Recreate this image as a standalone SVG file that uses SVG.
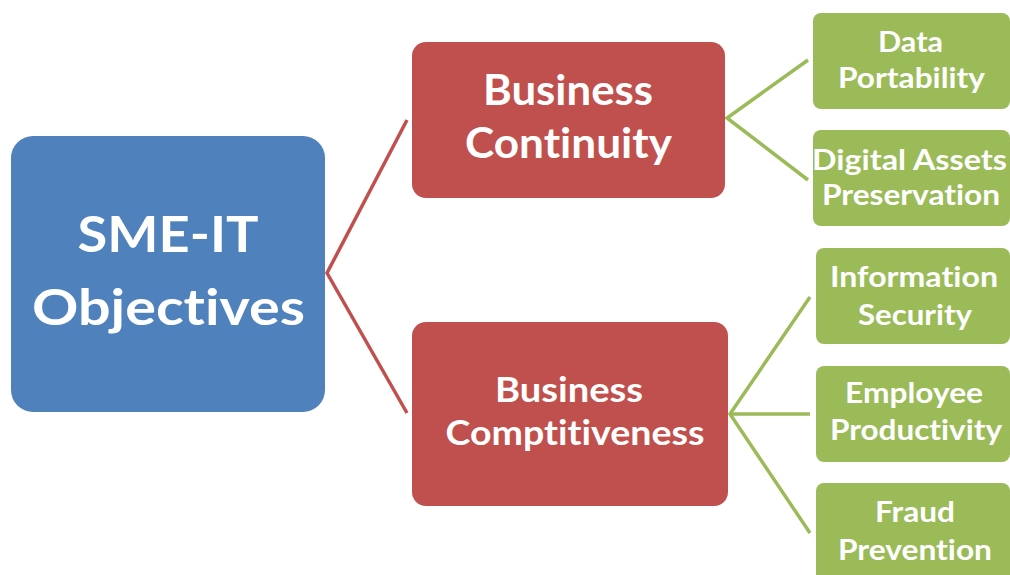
<svg xmlns="http://www.w3.org/2000/svg" width="1010" height="575" viewBox="0 0 1010 575">
<style>
text{font-family:Lato,"Open Sans","Liberation Sans",sans-serif;font-weight:700;fill:#fff;text-anchor:middle;font-variant-ligatures:none}
.blue{fill:#4F81BD}
.red{fill:#C0504D}
.green{fill:#9BBB59}
.cr{stroke:#C0504D;stroke-width:3.5;fill:none}
.cg{stroke:#9BBB59;stroke-width:3.5;fill:none}
.t1{font-size:50px}
.t2{font-size:42px}
.t3{font-size:35px}
.t4{font-size:28.5px}
</style>
<rect width="1010" height="575" fill="#fff"/>
<g id="connectors">
<polyline class="cr" points="407,120 327,273 407,413"/>
<polyline class="cg" points="808,60 727,118 808,180"/>
<polyline class="cg" points="810,297 730,414 810,533"/>
<line class="cg" x1="730" y1="414" x2="810" y2="414"/>
</g>
<g id="root">
<rect class="blue" x="11" y="136" width="314" height="276" rx="22"/>
<text class="t1" x="168" y="252" textLength="181" lengthAdjust="spacingAndGlyphs">SME-IT</text>
<text class="t1" x="168.5" y="325" textLength="273" lengthAdjust="spacingAndGlyphs">Objectives</text>
</g>
<g id="continuity">
<rect class="red" x="412" y="42" width="313" height="156" rx="14"/>
<text class="t2" x="568" y="105" textLength="170" lengthAdjust="spacingAndGlyphs">Business</text>
<text class="t2" x="568.5" y="158" textLength="207" lengthAdjust="spacingAndGlyphs">Continuity</text>
</g>
<g id="competitiveness">
<rect class="red" x="412" y="322" width="316" height="184" rx="14"/>
<text class="t3" x="569" y="402" textLength="148" lengthAdjust="spacingAndGlyphs">Business</text>
<text class="t3" x="575" y="445" textLength="259" lengthAdjust="spacingAndGlyphs">Comptitiveness</text>
</g>
<g id="data-portability">
<rect class="green" x="813" y="13" width="197" height="96" rx="8"/>
<text class="t4" x="910.5" y="52" textLength="65" lengthAdjust="spacingAndGlyphs">Data</text>
<text class="t4" x="911.5" y="88" textLength="147" lengthAdjust="spacingAndGlyphs">Portability</text>
</g>
<g id="digital-assets">
<rect class="green" x="813" y="130" width="197" height="96" rx="8"/>
<text class="t4" x="909.5" y="170" textLength="195" lengthAdjust="spacingAndGlyphs">Digital Assets</text>
<text class="t4" x="911" y="205" textLength="178" lengthAdjust="spacingAndGlyphs">Preservation</text>
</g>
<g id="information-security">
<rect class="green" x="816" y="248" width="194" height="96" rx="8"/>
<text class="t4" x="914" y="287" textLength="168" lengthAdjust="spacingAndGlyphs">Information</text>
<text class="t4" x="915" y="325" textLength="114" lengthAdjust="spacingAndGlyphs">Security</text>
</g>
<g id="employee-productivity">
<rect class="green" x="816" y="366" width="194" height="96" rx="8"/>
<text class="t4" x="914" y="403" textLength="138" lengthAdjust="spacingAndGlyphs">Employee</text>
<text class="t4" x="916" y="440" textLength="172" lengthAdjust="spacingAndGlyphs">Productivity</text>
</g>
<g id="fraud-prevention">
<rect class="green" x="816" y="483" width="194" height="110" rx="8"/>
<text class="t4" x="915" y="522" textLength="80" lengthAdjust="spacingAndGlyphs">Fraud</text>
<text class="t4" x="915" y="560" textLength="154" lengthAdjust="spacingAndGlyphs">Prevention</text>
</g>
</svg>
